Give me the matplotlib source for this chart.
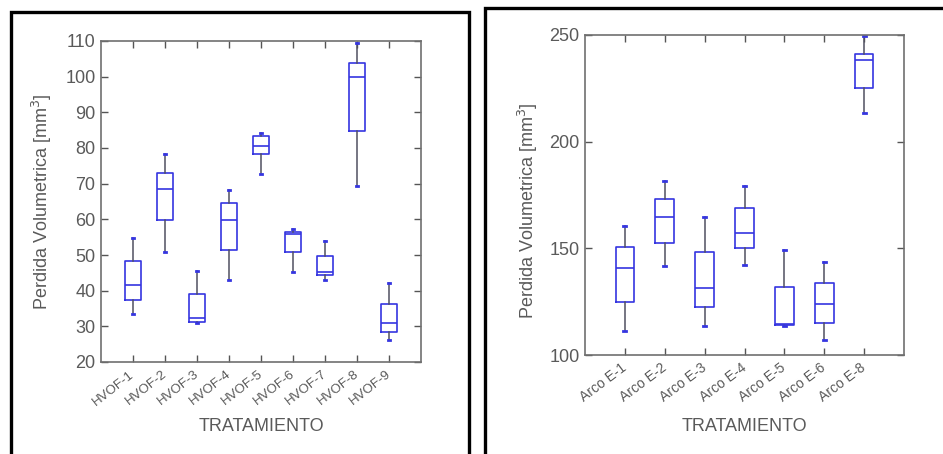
"""
Two boxplot panels: volumetric loss per treatment (HVOF coatings and
arc-sprayed coatings). Values read off the published figure.
"""
import matplotlib

matplotlib.use("Agg")
import matplotlib.pyplot as plt
from matplotlib.patches import Rectangle

# --- data (whisker low, Q1, median, Q3, whisker high) -----------------
hvof_labels = ["HVOF-1", "HVOF-2", "HVOF-3", "HVOF-4", "HVOF-5",
               "HVOF-6", "HVOF-7", "HVOF-8", "HVOF-9"]
hvof_low = [33.5, 50.8, 30.8, 43.1, 72.8, 45.2, 43.1, 69.3, 26.1]
hvof_q1 = [37.5, 59.9, 31.2, 51.5, 78.4, 50.8, 44.3, 84.7, 28.4]
hvof_med = [41.5, 68.4, 32.4, 59.9, 80.5, 56.0, 45.2, 99.9, 30.9]
hvof_q3 = [48.2, 73.0, 39.2, 64.6, 83.3, 56.4, 49.6, 103.8, 36.4]
hvof_high = [54.9, 78.4, 45.5, 68.3, 84.2, 57.4, 53.9, 109.4, 42.1]

arco_labels = ["Arco E-1", "Arco E-2", "Arco E-3", "Arco E-4",
               "Arco E-5", "Arco E-6", "Arco E-8"]
arco_low = [111.3, 141.9, 113.6, 142.2, 113.5, 107.0, 213.3]
arco_q1 = [125.0, 152.7, 122.7, 150.0, 114.0, 115.2, 225.0]
arco_med = [140.6, 164.8, 131.3, 157.3, 114.5, 123.8, 238.3]
arco_q3 = [150.8, 173.1, 148.1, 168.8, 132.0, 133.9, 241.1]
arco_high = [160.5, 181.7, 164.8, 179.2, 149.2, 143.8, 249.5]

W, H = 943, 454
BLUE = "#3535e0"
DARK = "#505060"
TXT = "#5a5a5a"
plt.rcParams["font.family"] = ["Liberation Sans", "DejaVu Sans"]


def _stats(labels, lo, q1, med, q3, hi):
    return [dict(label=l, whislo=a, q1=b, med=c, q3=d, whishi=e, fliers=[])
            for l, a, b, c, d, e in zip(labels, lo, q1, med, q3, hi)]


def _panel(fig, rect_px, stats, ylim, yticks, xrot, xfs, widths):
    x0, y0, x1, y1 = rect_px
    ax = fig.add_axes([x0 / W, 1 - y1 / H, (x1 - x0) / W, (y1 - y0) / H])
    n = len(stats)
    ax.bxp(stats, positions=range(1, n + 1), widths=widths,
           showfliers=False, capwidths=0.08,
           boxprops=dict(color=BLUE, linewidth=1.2),
           medianprops=dict(color=BLUE, linewidth=1.2),
           whiskerprops=dict(color=DARK, linewidth=1.1),
           capprops=dict(color=BLUE, linewidth=2.0))
    ax.set_xlim(0, n + 1)
    ax.set_ylim(*ylim)
    ax.set_yticks(yticks)
    ax.set_xticks(range(1, n + 1))
    ax.set_xticklabels([s["label"] for s in stats], rotation=xrot,
                       ha="right", va="center", rotation_mode="anchor",
                       fontsize=xfs, color=TXT)
    ax.tick_params(axis="x", pad=8)
    ax.tick_params(direction="in", length=5, width=1, color="#555555",
                   top=True, right=True)
    ax.tick_params(axis="y", labelsize=13, labelcolor=TXT, pad=4)
    for sp in ax.spines.values():
        sp.set_color("#707070")
        sp.set_linewidth(1.2)
    ax.set_ylabel("Perdida Volumetrica [mm$^3$]", fontsize=13, color=TXT)
    ax.set_xlabel("TRATAMIENTO", fontsize=13, color=TXT)
    return ax


def main() -> None:
    fig = plt.figure(figsize=(W / 100, H / 100), dpi=100)

    ax1 = _panel(fig, (101, 41, 421, 362),
                 _stats(hvof_labels, hvof_low, hvof_q1, hvof_med,
                        hvof_q3, hvof_high),
                 (20, 110), range(20, 111, 10), 38, 9.5, 0.53)
    ax1.yaxis.set_label_coords(-0.148, 0.5)
    ax1.xaxis.set_label_coords(0.5, -0.174)

    ax2 = _panel(fig, (585, 35, 904, 355),
                 _stats(arco_labels, arco_low, arco_q1, arco_med,
                        arco_q3, arco_high),
                 (100, 250), [100, 150, 200, 250], 37, 10, 0.47)
    ax2.yaxis.set_label_coords(-0.142, 0.45)
    ax2.xaxis.set_label_coords(0.5, -0.198)

    # black panel frames around each chart
    for x0, y0, x1, y1 in [(10.5, 11.5, 468.5, 460), (484.5, 8, 960, 460)]:
        fig.patches.append(Rectangle((x0 / W, 1 - y1 / H), (x1 - x0) / W,
                                     (y1 - y0) / H, transform=fig.transFigure,
                                     fill=False, edgecolor="black",
                                     linewidth=2.4))

    fig.savefig("out.png", dpi=100)
    plt.close(fig)


if __name__ == "__main__":
    main()
